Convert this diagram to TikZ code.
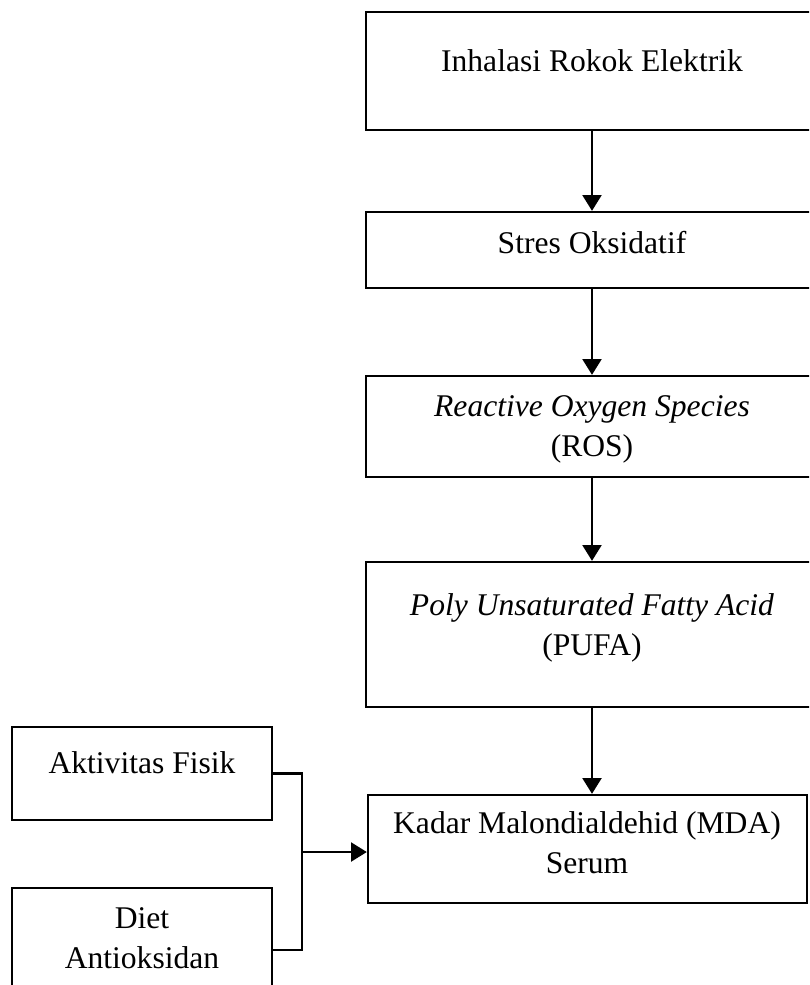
\documentclass[tikz,border=0pt]{standalone}
\usepackage{fontspec}
\setmainfont{Liberation Serif}
\usetikzlibrary{arrows.meta}
\begin{document}
\begin{tikzpicture}[x=0.38pt, y=-0.38pt,
        box/.style={draw, rectangle, line width=0.9pt, inner sep=0pt},
        lbl/.style={anchor=base, align=center, inner sep=0pt, font=\fontsize{12}{15}\selectfont},
        link/.style={line width=0.9pt},
        flow/.style={line width=0.9pt, -{Triangle[width=7.2pt, length=6pt]}}
        ]
        \useasboundingbox (0,0) rectangle (809,985);
        \clip (0,0) rectangle (809,985);
        % main chain
        \node [box, minimum width=452*0.38pt, minimum height=118*0.38pt] (inhal) at (592,71) {};
        \node [box, minimum width=452*0.38pt, minimum height=76*0.38pt] (stres) at (592,250) {};
        \node [box, minimum width=452*0.38pt, minimum height=101*0.38pt] (ros) at (592,426.5) {};
        \node [box, minimum width=452*0.38pt, minimum height=145*0.38pt] (pufa) at (592,634.5) {};
        \node [box, minimum width=439*0.38pt, minimum height=108*0.38pt] (mda) at (587.5,849) {};
        \node [lbl] (inhal-t) at (592,71) {Inhalasi Rokok Elektrik};
        \node [lbl] (stres-t) at (592,253) {Stres Oksidatif};
        \node [lbl] (ros-t) at (592,456) {\textit{Reactive Oxygen Species}\\(ROS)};
        \node [lbl] (pufa-t) at (592,655) {\textit{Poly Unsaturated Fatty Acid}\\(PUFA)};
        \node [lbl] (mda-t) at (587,873) {Kadar Malondialdehid (MDA)\\Serum};
        % side factors
        \node [box, minimum width=260*0.38pt, minimum height=93*0.38pt] (akt) at (142,773.5) {};
        \node [box, minimum width=260*0.38pt, minimum height=124*0.38pt] (diet) at (142,950) {};
        \node [lbl] (akt-t) at (142,773) {Aktivitas Fisik};
        \node [lbl] (diet-t) at (142,968) {Diet\\Antioksidan};
        \coordinate (jn) at (302,852);
        \draw [flow] (inhal.south) -- (stres.north);
        \draw [flow] (stres.south) -- (ros.north);
        \draw [flow] (ros.south) -- (pufa.north);
        \draw [flow] (pufa.south) -- (pufa.south |- mda.north);
        \draw [link] (akt.east) -| (jn) |- (diet.east);
        \draw [flow] (jn) -- (jn -| mda.west);
\end{tikzpicture}
\end{document}
